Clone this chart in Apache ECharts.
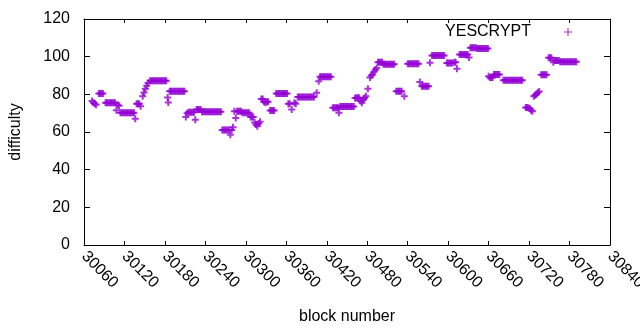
<!DOCTYPE html>
<html>
<head>
<meta charset="utf-8">
<title>YESCRYPT difficulty</title>
<script src="https://cdn.jsdelivr.net/npm/echarts@6/dist/echarts.min.js"></script>
<style>
  html, body { margin: 0; padding: 0; background: #fff; }
  #chart { width: 640px; height: 330px; }
</style>
</head>
<body>
<div id="chart"></div>
<script>
// block number of each point (one line per clump)
const blocks = [
  30072, 30074, 30076, 30078,
  30082, 30084, 30086, 30088,
  30092, 30094, 30096, 30098, 30100, 30102, 30104, 30106,
  30108, 30110, 30112,
  30114, 30116, 30118, 30120, 30122, 30124, 30126, 30128, 30130, 30132, 30134,
  30136,
  30138, 30140, 30142, 30144,
  30147, 30149, 30151, 30153, 30155,
  30158, 30160, 30162, 30164, 30166, 30168, 30170, 30172, 30174, 30176, 30178, 30180, 30182,
  30184, 30185,
  30187, 30189, 30191, 30193, 30195, 30197, 30199, 30201, 30203, 30205, 30207, 30209,
  30211, 30213, 30215, 30217, 30219, 30221, 30223, 30225,
  30227, 30229, 30231, 30233,
  30235, 30237, 30239, 30241, 30243, 30245, 30247, 30249, 30251, 30253, 30255, 30257, 30259, 30261, 30263,
  30265, 30267, 30269, 30271, 30273, 30275, 30277, 30279, 30281,
  30283, 30285, 30287, 30289, 30291, 30293,
  30295, 30297, 30299, 30301, 30303, 30305,
  30307, 30309, 30311,
  30313, 30315, 30317, 30319, 30321,
  30323, 30325, 30327, 30329, 30331, 30333,
  30336, 30338, 30340, 30342,
  30345, 30347, 30349, 30351, 30353, 30355, 30357, 30359, 30361,
  30363, 30365, 30368, 30372, 30374,
  30377, 30379, 30381, 30383, 30385, 30387, 30389, 30391, 30393, 30395, 30397, 30399, 30401,
  30405, 30408,
  30410, 30412, 30414, 30416, 30418, 30420, 30422, 30424, 30426,
  30429, 30431, 30433, 30435, 30437, 30438,
  30440, 30442, 30444, 30446, 30448, 30450, 30452, 30454, 30456, 30458, 30460,
  30462, 30464, 30466, 30468, 30470, 30472, 30474, 30476, 30478, 30481,
  30484, 30486, 30488, 30490, 30492, 30494,
  30496, 30498, 30500, 30502,
  30504, 30506, 30508, 30510, 30512, 30514, 30516, 30518, 30520,
  30523, 30525, 30527, 30529, 30531, 30535,
  30540, 30542, 30544, 30546, 30548, 30550, 30552, 30554, 30556,
  30558, 30561, 30563, 30565, 30567, 30569, 30571, 30573,
  30576, 30578, 30580, 30582, 30584, 30586, 30588, 30590, 30592, 30594,
  30598, 30600, 30602, 30604, 30606, 30609, 30611, 30613,
  30617, 30619, 30621, 30623, 30625, 30627, 30629,
  30631,
  30633, 30635, 30637, 30639, 30641,
  30643, 30645, 30647, 30649, 30651, 30653, 30655, 30657, 30659,
  30660, 30662, 30664, 30666, 30668, 30670, 30672, 30674, 30676,
  30682, 30684, 30686, 30688, 30690, 30692, 30694, 30696, 30698, 30700, 30702, 30704, 30706, 30708, 30710,
  30715, 30717, 30719, 30721, 30723, 30725,
  30727, 30729, 30731, 30733, 30735,
  30738, 30740, 30742, 30744, 30746,
  30749, 30751, 30753,
  30756, 30758, 30760, 30762, 30764, 30766, 30768, 30770, 30772, 30774, 30776, 30778, 30780, 30782, 30784, 30786, 30788, 30790
]
// difficulty for each block above, same line layout
const difficulty = [
  76.5, 75.5, 75, 74.5,
  80.4, 80.4, 80.4, 80.4,
  75.5, 75.5, 75.5, 75.5, 75.5, 75.5, 75.5, 75.5,
  71.5, 74.5, 74,
  70.2, 70.2, 70.2, 70.2, 70.2, 70.2, 70.2, 70.2, 70.2, 70.2, 70.2,
  67,
  75, 75, 75, 73.7,
  79, 81, 83, 84.5, 86,
  87.2, 87.2, 87.2, 87.2, 87.2, 87.2, 87.2, 87.2, 87.2, 87.2, 87.2, 87.2, 87.2,
  78.3, 75.7,
  81.7, 81.7, 81.7, 81.7, 81.7, 81.7, 81.7, 81.7, 81.7, 81.7, 81.7, 81.7,
  68, 70, 70.5, 70.5, 70.5, 70.5, 70.5, 66.5,
  72, 72, 72, 72,
  70.7, 70.7, 70.7, 70.7, 70.7, 70.7, 70.7, 70.7, 70.7, 70.7, 70.7, 70.7, 70.7, 70.7, 70.7,
  61, 61, 61, 61, 61, 61, 58.5, 61, 62.5,
  71, 67.5, 71, 71, 71, 71,
  70.2, 70.2, 70.2, 70.2, 70.2, 70.2,
  68, 68, 68,
  65, 64, 63, 64.5, 65.5,
  77.5, 77.5, 76, 75.5, 76, 76,
  71.4, 71.4, 71.4, 71.4,
  80.5, 80.5, 80.5, 80.5, 80.5, 80.5, 80.5, 80.5, 80.5,
  75, 75, 72, 75.5, 75,
  78.6, 78.6, 78.6, 78.6, 78.6, 78.6, 78.6, 78.6, 78.6, 78.6, 78.6, 78.6, 78.6,
  80.8, 87,
  89.3, 89.3, 89.3, 89.3, 89.3, 89.3, 89.3, 89.3, 89.3,
  72.9, 72.9, 72.9, 72.9, 72.9, 70.2,
  73.5, 73.5, 73.5, 73.5, 73.5, 73.5, 73.5, 73.5, 73.5, 73.5, 73.5,
  78, 78, 78.3, 78, 76.5, 75.5, 77, 78, 79, 83,
  89, 90, 90.5, 92, 93, 94,
  97, 97, 97, 97,
  96, 96, 96, 96, 96, 96, 96, 96, 96,
  81.7, 81.7, 81.7, 81.7, 81.7, 79,
  96.3, 96.3, 96.3, 96.3, 96.3, 96.3, 96.3, 96.3, 96.3,
  86.5, 84.3, 84.3, 84.3, 84.3, 84.3, 84.3, 96.8,
  100.6, 100.6, 100.6, 100.6, 100.6, 100.6, 100.6, 100.6, 100.6, 100.6,
  96.7, 96.7, 96.7, 96.7, 96.7, 97, 97, 93.6,
  101.2, 101.2, 101.2, 101.2, 101.2, 101.2, 101.2,
  99.5,
  104.7, 104.7, 104.7, 104.7, 104.7,
  104.3, 104.3, 104.3, 104.3, 104.3, 104.3, 104.3, 104.3, 104.3,
  89.6, 89, 89, 89, 90.5, 90.5, 90.5, 90.5, 90.5,
  87.5, 87.5, 87.5, 87.5, 87.5, 87.5, 87.5, 87.5, 87.5, 87.5, 87.5, 87.5, 87.5, 87.5, 87.5,
  73, 73, 72.9, 72.5, 71.5, 71,
  79, 79.5, 80, 81, 81.5,
  90.4, 90.4, 90.4, 90.4, 90.4,
  99.4, 99.4, 99.4,
  97, 98, 98, 98, 98, 97.3, 97.3, 97.3, 97.3, 97.3, 97.3, 97.3, 97.3, 97.3, 97.3, 97.3, 97.3, 97.3
]
const seriesName = 'YESCRYPT'
const xRange = [30060, 30840] // ticks every 60
const yRange = [0, 120] // ticks every 20

if (blocks.length !== difficulty.length) {
  console.error('length mismatch', blocks.length, difficulty.length)
}

// gnuplot style "+" point, the key sample is drawn thinner
const plusMark = 'path://M2.5,0h2v7h-2z M0,2.5h7v2h-7z'
const plusKey = 'path://M6,0h2v14h-2z M0,6h14v2h-14z'
const purple = '#9400d3'
const font = { fontFamily: 'Liberation Sans', fontSize: 16, color: '#000' }

const chart = echarts.init(document.getElementById('chart'))
const frameAxis = {
  axisLine: { show: true, onZero: false, lineStyle: { color: '#000', width: 1 } },
  axisTick: { show: true, inside: true, lineStyle: { color: '#000' } },
  splitLine: { show: false }
}

chart.setOption({
  animation: false,
  backgroundColor: '#fff',
  grid: { left: 84, right: 30, top: 19, bottom: 85, outerBoundsMode: 'none', containLabel: false },
  legend: {
    right: 63,
    top: 19,
    align: 'right',
    icon: plusKey,
    itemWidth: 8,
    itemHeight: 8,
    textStyle: { ...font, padding: [0, 28, 0, 0] },
    data: [seriesName]
  },
  xAxis: [
    {
      ...frameAxis,
      type: 'value',
      min: xRange[0],
      max: xRange[1],
      interval: 60,
      axisTick: { ...frameAxis.axisTick, length: 4 },
      axisLabel: { ...font, rotate: -45, margin: 9, formatter: (v) => String(v) },
      name: 'block number',
      nameLocation: 'middle',
      nameGap: 64,
      nameTextStyle: font
    },
    {
      ...frameAxis,
      type: 'value',
      position: 'top',
      min: xRange[0],
      max: xRange[1],
      interval: 60,
      axisTick: { ...frameAxis.axisTick, length: 4 },
      axisLabel: { show: false }
    }
  ],
  yAxis: [
    {
      ...frameAxis,
      type: 'value',
      min: yRange[0],
      max: yRange[1],
      interval: 20,
      axisTick: { ...frameAxis.axisTick, length: 6 },
      axisLabel: { ...font, margin: 14 },
      name: 'difficulty',
      nameLocation: 'middle',
      nameGap: 60,
      nameTextStyle: font
    },
    {
      ...frameAxis,
      type: 'value',
      position: 'right',
      min: yRange[0],
      max: yRange[1],
      interval: 20,
      axisTick: { ...frameAxis.axisTick, length: 6 },
      axisLabel: { show: false }
    }
  ],
  series: [
    {
      name: seriesName,
      type: 'scatter',
      symbol: plusMark,
      symbolSize: 7,
      itemStyle: { color: purple },
      data: blocks.map((b, i) => [b, difficulty[i]])
    }
  ]
})
</script>
</body>
</html>
